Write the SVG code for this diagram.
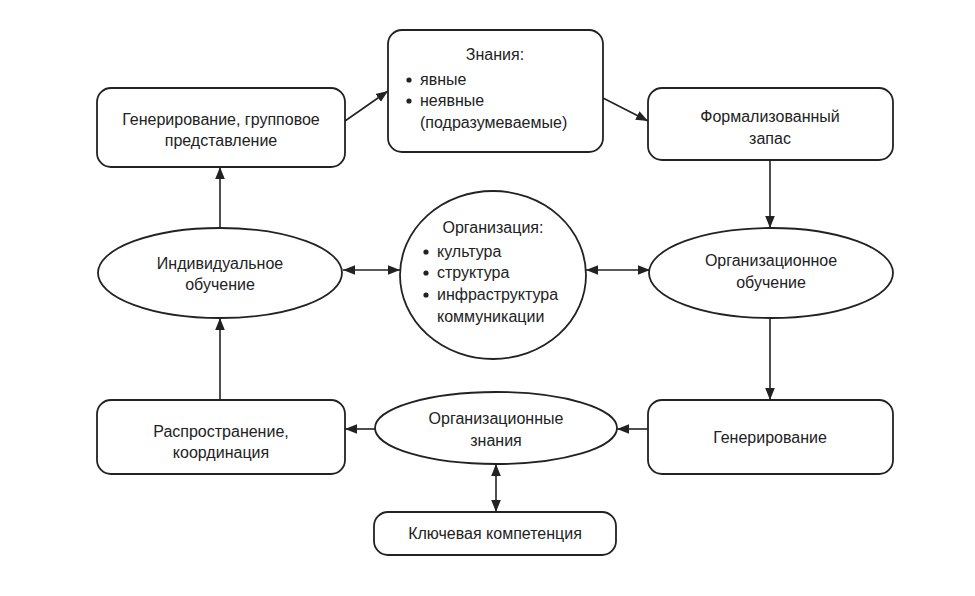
<svg xmlns="http://www.w3.org/2000/svg" width="975" height="596" viewBox="0 0 975 596">
<style>
.n{fill:#fff;stroke:#222;stroke-width:1.8}
.t{font-family:"Liberation Sans",Arial,sans-serif;font-size:16px;fill:#222;text-anchor:middle}
.l{font-family:"Liberation Sans",Arial,sans-serif;font-size:16px;fill:#222}
.c{stroke:#222;stroke-width:1.6;fill:none}
</style>
<defs>
<marker id="a" viewBox="0 0 10 10" refX="10" refY="5" markerWidth="12" markerHeight="12" markerUnits="userSpaceOnUse" orient="auto-start-reverse">
<path d="M0,1 L10,5 L0,9 Z" fill="#222"/>
</marker>
</defs>
<rect width="975" height="596" fill="#fff"/>
<g id="connectors">
<line class="c" x1="220" y1="228" x2="220" y2="167" marker-end="url(#a)"/>
<line class="c" x1="345" y1="121" x2="388" y2="91" marker-end="url(#a)"/>
<line class="c" x1="603" y1="98" x2="648" y2="121" marker-end="url(#a)"/>
<line class="c" x1="770" y1="160" x2="770" y2="228" marker-end="url(#a)"/>
<line class="c" x1="343" y1="270" x2="400" y2="270" marker-start="url(#a)" marker-end="url(#a)"/>
<line class="c" x1="586" y1="270" x2="650" y2="270" marker-start="url(#a)" marker-end="url(#a)"/>
<line class="c" x1="770" y1="318" x2="770" y2="400" marker-end="url(#a)"/>
<line class="c" x1="648" y1="429" x2="617" y2="429" marker-end="url(#a)"/>
<line class="c" x1="375" y1="429" x2="345" y2="429" marker-end="url(#a)"/>
<line class="c" x1="220" y1="400" x2="220" y2="318" marker-end="url(#a)"/>
<line class="c" x1="496" y1="464" x2="496" y2="512" marker-start="url(#a)" marker-end="url(#a)"/>
</g>
<g id="gen-group">
<rect class="n" x="97" y="88" width="248" height="79" rx="14"/>
<text class="t" x="221" y="125">Генерирование, групповое</text>
<text class="t" x="221" y="146">представление</text>
</g>
<g id="knowledge">
<rect class="n" x="388" y="30" width="215" height="122" rx="14"/>
<text class="t" x="495" y="60">Знания:</text>
<circle cx="409" cy="80" r="2.6" fill="#222"/>
<text class="l" x="420" y="85">явные</text>
<circle cx="409" cy="101" r="2.6" fill="#222"/>
<text class="l" x="420" y="106">неявные</text>
<text class="l" x="420" y="128">(подразумеваемые)</text>
</g>
<g id="formal">
<rect class="n" x="648" y="88" width="245" height="72" rx="14"/>
<text class="t" x="770" y="122">Формализованный</text>
<text class="t" x="770" y="144">запас</text>
</g>
<g id="individual">
<ellipse class="n" cx="220" cy="273" rx="122" ry="45"/>
<text class="t" x="220" y="269">Индивидуальное</text>
<text class="t" x="220" y="290">обучение</text>
</g>
<g id="organization">
<ellipse class="n" cx="493" cy="275" rx="93" ry="84"/>
<text class="t" x="493" y="233">Организация:</text>
<circle cx="426" cy="252" r="2.6" fill="#222"/>
<text class="l" x="437" y="257">культура</text>
<circle cx="426" cy="273" r="2.6" fill="#222"/>
<text class="l" x="437" y="278">структура</text>
<circle cx="426" cy="295" r="2.6" fill="#222"/>
<text class="l" x="437" y="300">инфраструктура</text>
<text class="l" x="437" y="322">коммуникации</text>
</g>
<g id="org-learning">
<ellipse class="n" cx="771" cy="273" rx="122" ry="45"/>
<text class="t" x="771" y="266">Организационное</text>
<text class="t" x="771" y="288">обучение</text>
</g>
<g id="spread">
<rect class="n" x="97" y="400" width="248" height="74" rx="14"/>
<text class="t" x="221" y="437">Распространение,</text>
<text class="t" x="221" y="458">координация</text>
</g>
<g id="org-knowledge">
<ellipse class="n" cx="496" cy="428" rx="121" ry="36"/>
<text class="t" x="496" y="424">Организационные</text>
<text class="t" x="496" y="446">знания</text>
</g>
<g id="generation">
<rect class="n" x="648" y="400" width="245" height="74" rx="14"/>
<text class="t" x="770" y="443">Генерирование</text>
</g>
<g id="competence">
<rect class="n" x="374" y="512" width="242" height="43" rx="14"/>
<text class="t" x="495" y="539">Ключевая компетенция</text>
</g>
</svg>
